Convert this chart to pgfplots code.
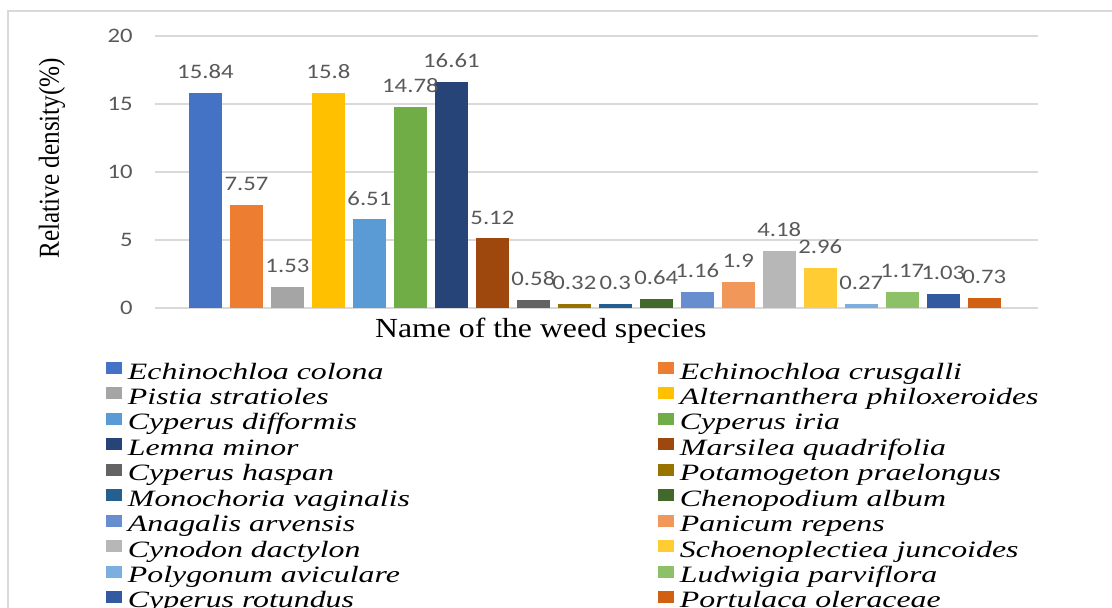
\documentclass[border=0pt]{standalone}
\usepackage{graphicx}
\usepackage{pgfplots}
\pgfplotsset{compat=1.18}
\usepackage{fontspec}
\setmainfont{Liberation Serif}
\newfontfamily\numfont[FakeStretch=1.2]{Carlito}
\newfontfamily\legfont[FakeStretch=1.36]{Liberation Serif}
\newfontfamily\labfont[FakeStretch=1.15]{Liberation Serif}

\definecolor{c1}{HTML}{4472C4}
\definecolor{c2}{HTML}{ED7D31}
\definecolor{c3}{HTML}{A5A5A5}
\definecolor{c4}{HTML}{FFC000}
\definecolor{c5}{HTML}{5B9BD5}
\definecolor{c6}{HTML}{70AD47}
\definecolor{c7}{HTML}{264478}
\definecolor{c8}{HTML}{9E480E}
\definecolor{c9}{HTML}{636363}
\definecolor{c10}{HTML}{997300}
\definecolor{c11}{HTML}{255E91}
\definecolor{c12}{HTML}{43682B}
\definecolor{c13}{HTML}{698ED0}
\definecolor{c14}{HTML}{F1975A}
\definecolor{c15}{HTML}{B7B7B7}
\definecolor{c16}{HTML}{FFCD33}
\definecolor{c17}{HTML}{7CAFDD}
\definecolor{c18}{HTML}{8CC168}
\definecolor{c19}{HTML}{335AA1}
\definecolor{c20}{HTML}{D26012}
\definecolor{gridgray}{HTML}{D9D9D9}
\definecolor{labgray}{HTML}{595959}

% first legend column gets a fixed width so the second column lines up
\newcommand\lc[1]{\makebox[265pt][l]{#1}}

\begin{document}
\begin{tikzpicture}
\useasboundingbox (0pt,0pt) rectangle (556pt,303.5pt);
\clip (0pt,0pt) rectangle (556pt,303.5pt);
% chart area border
\draw[gridgray, line width=0.75pt] (4pt,-10pt) -- (4pt,298pt) -- (570pt,298pt);
\begin{axis}[
  at={(77.5pt,149.5pt)}, anchor=south west,
  scale only axis, width=441.5pt, height=136pt,
  ybar, bar width=16.75pt, bar shift=0pt,
  xmin=-1.23, xmax=20.31, ymin=0, ymax=20,
  ytick={0,5,...,20}, xtick=\empty,
  ymajorgrids, grid style={line width=0.75pt, gridgray},
  axis line style={draw=none}, major tick length=0pt,
  /pgf/number format/assume math mode=true,
  yticklabel style={font=\numfont\fontsize{10.3}{12}\selectfont, text=labgray, inner sep=0pt},
  yticklabel shift=11pt,
  ylabel={\scalebox{1}[1.15]{Relative density(\%)}},
  ylabel style={font=\fontsize{12.6}{15}\selectfont, at={(rel axis cs:-0.1166,0.551)}, anchor=center},
  xlabel={Name of the weed species},
  xlabel style={font=\labfont\fontsize{13.8}{16}\selectfont, at={(rel axis cs:0.437,-0.1066)}, anchor=base},
  nodes near coords,
  every node near coord/.append style={font=\numfont\fontsize{10.3}{12}\selectfont, text=labgray, anchor=south, inner sep=0pt, yshift=6.9pt},
  sq/.style={draw=none, legend image code/.code={\fill[##1] (0pt,0pt) rectangle (8pt,6pt);}},
  legend columns=2, legend cell align=left,
  legend style={at={(rel axis cs:-0.0555,-0.1985)}, anchor=north west,
    draw=none, fill=none, inner sep=0pt, outer sep=0pt,
    row sep=1.22pt, column sep=0pt,
    font=\legfont\itshape\fontsize{11.7}{13}\selectfont,
    nodes={inner sep=0pt, text height=8pt, text depth=3pt},
    /tikz/every odd column/.append style={column sep=3pt}},
]
\addplot[sq, fill=c1]  coordinates {(0,15.84)};
\addplot[sq, fill=c2]  coordinates {(1,7.57)};
\addplot[sq, fill=c3]  coordinates {(2,1.53)};
\addplot[sq, fill=c4]  coordinates {(3,15.8)};
\addplot[sq, fill=c5]  coordinates {(4,6.51)};
\addplot[sq, fill=c6]  coordinates {(5,14.78)};
\addplot[sq, fill=c7]  coordinates {(6,16.61)};
\addplot[sq, fill=c8]  coordinates {(7,5.12)};
\addplot[sq, fill=c9]  coordinates {(8,0.58)};
\addplot[sq, fill=c10] coordinates {(9,0.32)};
\addplot[sq, fill=c11] coordinates {(10,0.3)};
\addplot[sq, fill=c12] coordinates {(11,0.64)};
\addplot[sq, fill=c13] coordinates {(12,1.16)};
\addplot[sq, fill=c14] coordinates {(13,1.9)};
\addplot[sq, fill=c15] coordinates {(14,4.18)};
\addplot[sq, fill=c16] coordinates {(15,2.96)};
\addplot[sq, fill=c17] coordinates {(16,0.27)};
\addplot[sq, fill=c18] coordinates {(17,1.17)};
\addplot[sq, fill=c19] coordinates {(18,1.03)};
\addplot[sq, fill=c20] coordinates {(19,0.73)};
\legend{
  \lc{Echinochloa colona}, Echinochloa crusgalli,
  \lc{Pistia stratioles}, Alternanthera philoxeroides,
  \lc{Cyperus difformis}, Cyperus iria,
  \lc{Lemna minor}, Marsilea quadrifolia,
  \lc{Cyperus haspan}, Potamogeton praelongus,
  \lc{Monochoria vaginalis}, Chenopodium album,
  \lc{Anagalis arvensis}, Panicum repens,
  \lc{Cynodon dactylon}, Schoenoplectiea juncoides,
  \lc{Polygonum aviculare}, Ludwigia parviflora,
  \lc{Cyperus rotundus}, Portulaca oleraceae}
\end{axis}
\end{tikzpicture}
\end{document}
